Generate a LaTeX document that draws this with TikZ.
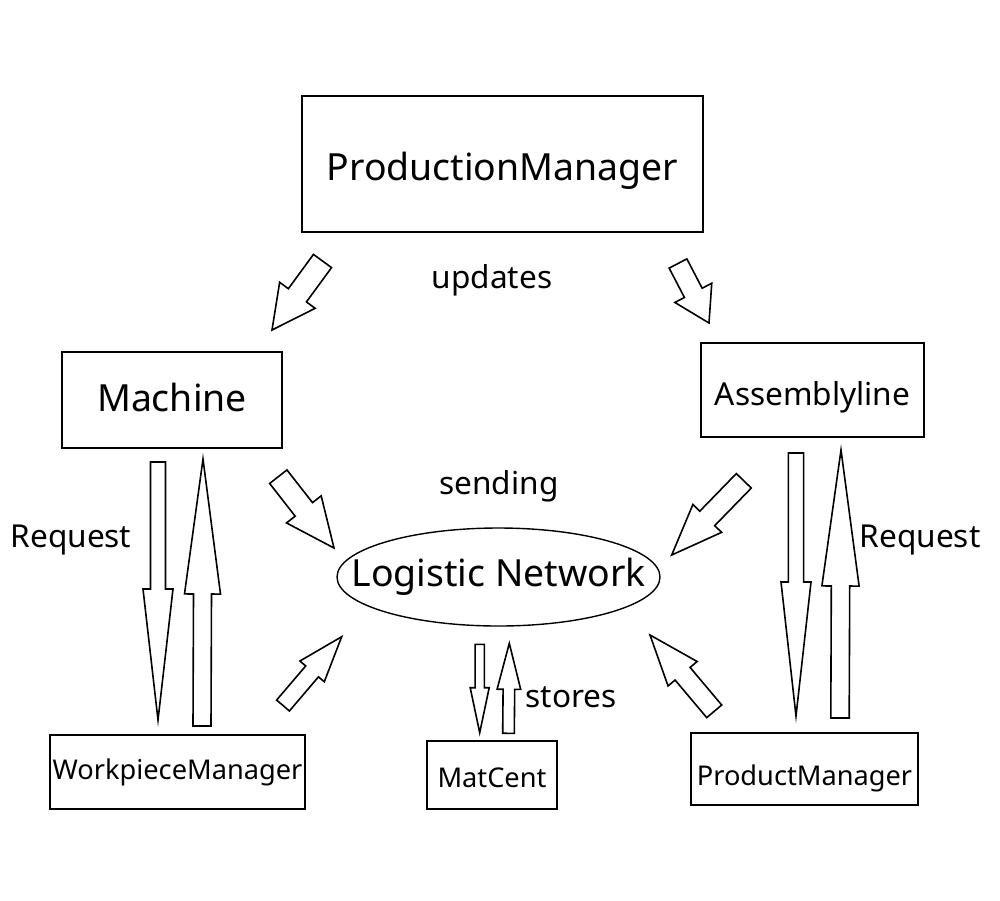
\documentclass[tikz,border=0pt]{standalone}
\usepackage{fontspec}
\setmainfont{Noto Sans}
\usetikzlibrary{calc, shapes.geometric}

% hollow block arrow: tail, tip, half shaft width, half head width, head length
\newcommand{\blockarr}[5]{%
  \coordinate (hb) at ($(#2)!#5!(#1)$);
  \draw[blockarrow] ($(#1)!#3!90:(#2)$) -- ($(hb)!#3!90:(#2)$) -- ($(hb)!#4!90:(#2)$)
    -- (#2) -- ($(hb)!#4!-90:(#2)$) -- ($(hb)!#3!-90:(#2)$) -- ($(#1)!#3!-90:(#2)$) -- cycle;
}

\begin{document}
\begin{tikzpicture}[
  x=0.5pt, y=-0.5pt,
  big/.style={font=\fontsize{18.7pt}{22pt}\selectfont},
  mid/.style={font=\fontsize{15.8pt}{19pt}\selectfont},
  small/.style={font=\fontsize{13.6pt}{16pt}\selectfont},
  box/.style={draw, line width=0.7pt, inner sep=0pt, fill=white},
  blockarrow/.style={draw, line width=0.8pt, fill=white, line join=miter}
]
  \useasboundingbox (0,0) rectangle (1000,900);

  \node[box, big, minimum width=200.5pt, minimum height=68pt, text height=21pt, text depth=4.5pt] (pm) at (502.5,164) {ProductionManager};
  \node[box, big, minimum width=110pt, minimum height=48pt, text height=14pt, text depth=3pt] (mach) at (172,400) {Machine};
  \node[box, mid, minimum width=111.5pt, minimum height=47pt, text height=19pt, text depth=3.8pt] (asl) at (812.5,390) {Assemblyline};
  \node[box, big, ellipse, minimum width=161.5pt, minimum height=49pt] (ln) at (498.5,577) {\makebox[0pt]{Logistic Network}};
  \node[box, small, minimum width=127.5pt, minimum height=37pt] (wpm) at (177.5,772) {WorkpieceManager};
  \node[box, small, minimum width=65pt, minimum height=34pt, text height=12.7pt, text depth=0pt] (mc) at (492,775) {MatCent};
  \node[box, small, minimum width=113.5pt, minimum height=36pt, text height=20pt, text depth=3.3pt] (prm) at (804.5,769) {ProductManager};

  \node[mid] (upd) at (492,280) {updates};
  \node[mid] (snd) at (499,486) {sending};
  \node[mid] (reql) at (71,540) {Request};
  \node[mid] (reqr) at (920,540) {Request};
  \node[mid] (sto) at (571,697) {stores};

  % arrow ends
  \coordinate (pm-m1) at (322.5,261);  \coordinate (pm-m2) at (272,330);
  \coordinate (pm-a1) at (678,263.5);  \coordinate (pm-a2) at (709,323);
  \coordinate (m-w1) at (158,462);     \coordinate (m-w2) at (158,720);
  \coordinate (w-m1) at (202,726);     \coordinate (w-m2) at (203,459);
  \coordinate (a-p1) at (796,453);     \coordinate (a-p2) at (796,716);
  \coordinate (p-a1) at (840,718);     \coordinate (p-a2) at (841,450);
  \coordinate (m-l1) at (278.3,476.7); \coordinate (m-l2) at (334,548);
  \coordinate (a-l1) at (743.8,480.8); \coordinate (a-l2) at (671.7,555);
  \coordinate (p-l1) at (714.2,711.3); \coordinate (p-l2) at (650,635);
  \coordinate (w-l1) at (283,705.5);   \coordinate (w-l2) at (341.7,636.7);
  \coordinate (l-c1) at (479.7,644.3); \coordinate (l-c2) at (479.7,732.7);
  \coordinate (c-l1) at (508.5,733.3); \coordinate (c-l2) at (509.3,643.3);

  \blockarr{pm-m1}{pm-m2}{5.6pt}{11pt}{21.5pt}
  \blockarr{pm-a1}{pm-a2}{5pt}{10.4pt}{17pt}
  \blockarr{m-w1}{m-w2}{3.75pt}{7.5pt}{65.5pt}
  \blockarr{w-m1}{w-m2}{4.5pt}{9pt}{67.5pt}
  \blockarr{a-p1}{a-p2}{3.8pt}{7.5pt}{67pt}
  \blockarr{p-a1}{p-a2}{4.6pt}{9.3pt}{68pt}
  \blockarr{m-l1}{m-l2}{5.5pt}{11pt}{24.5pt}
  \blockarr{a-l1}{a-l2}{5.2pt}{10pt}{25.5pt}
  \blockarr{p-l1}{p-l2}{4.9pt}{9.5pt}{25.3pt}
  \blockarr{w-l1}{w-l2}{4.2pt}{8pt}{22.8pt}
  \blockarr{l-c1}{l-c2}{2.3pt}{4.75pt}{22.5pt}
  \blockarr{c-l1}{c-l2}{2.9pt}{5.9pt}{23pt}
\end{tikzpicture}
\end{document}
